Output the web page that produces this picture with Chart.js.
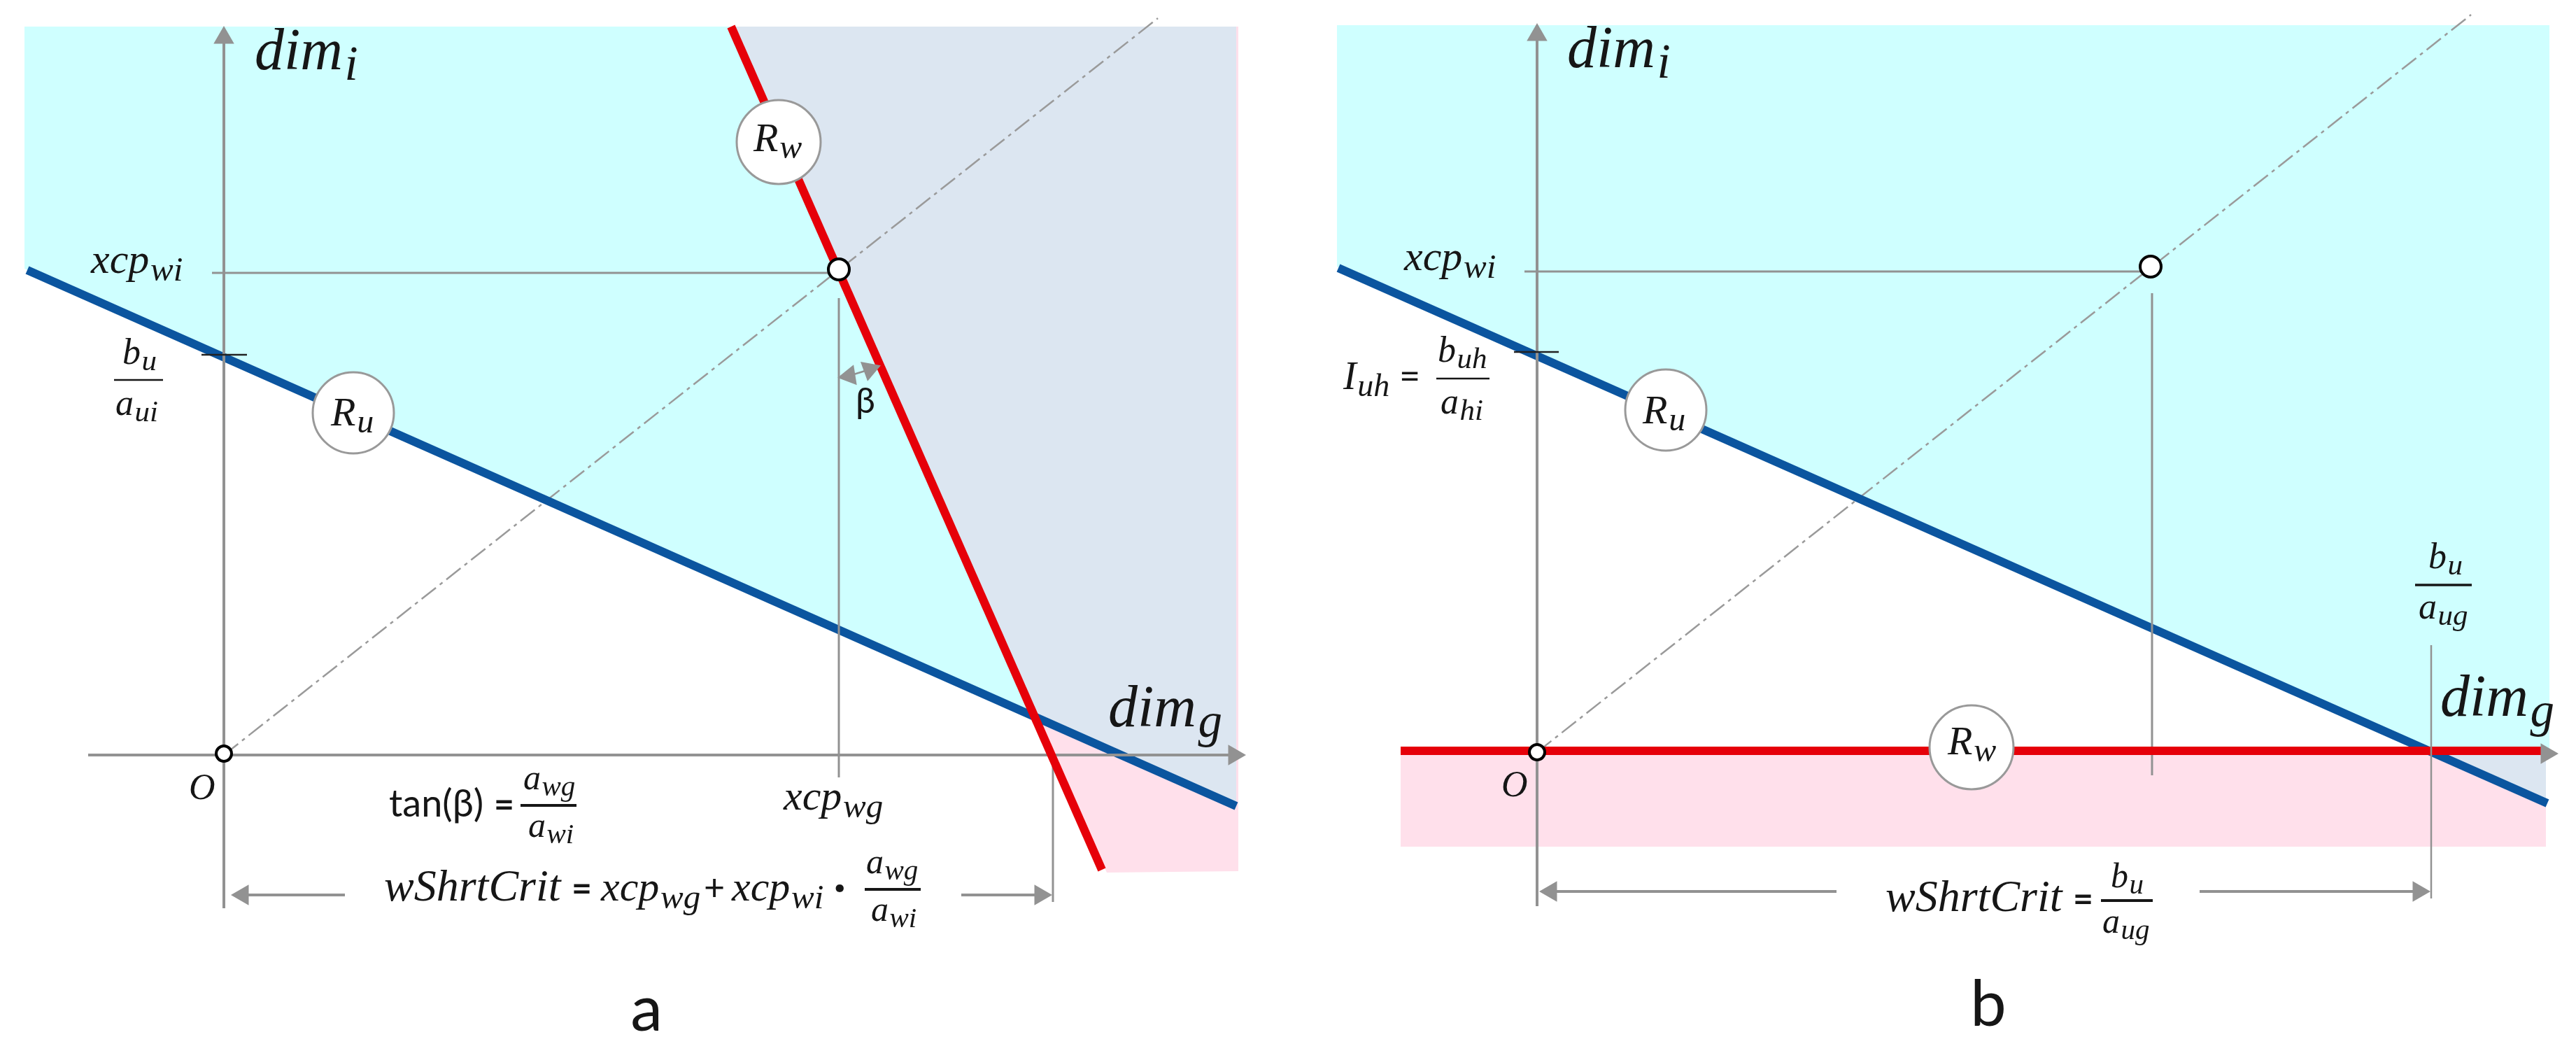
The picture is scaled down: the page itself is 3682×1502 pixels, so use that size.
<!DOCTYPE html>
<html>
<head>
<meta charset="utf-8">
<title>wShrtCrit</title>
<script src="https://cdn.jsdelivr.net/npm/chart.js@4"></script>
<style>
  html, body { margin: 0; padding: 0; background: #fff; }
  body { width: 3682px; height: 1502px; position: relative; overflow: hidden; }
  canvas { position: absolute; top: 0; }
  #panelA { left: 0; }
  #panelB { left: 1841px; }
</style>
</head>
<body>
<canvas id="panelA" width="1841" height="1502"></canvas>
<canvas id="panelB" width="1841" height="1502"></canvas>
<script>
// ----------------------
// PANEL A DATA (origin = O)
// ----------------------
const aXRange = [-3.20, 15.21];
const aYRange = [-4.23, 10.79];
const aRuX = [-2.81, 14.47];
const aRuY = [6.93, -0.73];
const aRwX = [7.25, 12.55];
const aRwY = [10.41, -1.64];
const aCyanX = [-2.85, 7.25, 11.62, -2.85];
const aCyanY = [10.41, 10.41, 0.54, 6.95];
const aGreyX = [7.25, 14.47, 14.47, 11.62];
const aGreyY = [10.41, 10.41, -0.73, 0.54];
const aPinkX = [11.62, 14.50, 14.50, 12.62];
const aPinkY = [0.54, -0.73, -1.66, -1.68];
const aStripX = [14.47, 14.50, 14.50, 14.47];
const aStripY = [10.41, 10.41, -0.73, -0.73];
const aDiagX = [0, 13.35];
const aDiagY = [0, 10.53];
const aXcp = [8.79, 6.94];
const aRuBadge = [1.85, 4.89];
const aRwBadge = [7.93, 8.76];
const aBu = [5.72];

// ----------------------
// PANEL B DATA
// ----------------------
const bXRange = [-3.56, 14.85];
const bYRange = [-4.27, 10.75];
const bRuX = [-2.84, 14.44];
const bRuY = [6.92, -0.73];
const bRwX = [-1.95, 14.42];
const bRwY = [0.02, 0.02];
const bCyanX = [-2.86, 14.47, 14.47, 12.78, -2.86];
const bCyanY = [10.39, 10.39, 0, 0, 6.94];
const bGreyX = [12.78, 14.42, 14.42];
const bGreyY = [0, 0, -0.73];
const bPinkX = [-1.95, 12.78, 14.42, 14.42, -1.95];
const bPinkY = [0, 0, -0.73, -1.35, -1.35];
const bDiagX = [0, 13.35];
const bDiagY = [0, 10.54];
const bXcp = [8.77, 6.94];
const bRuBadge = [1.84, 4.89];
const bRwBadge = [6.21, 0.07];
const bBu = [5.72];

// ----------------------
// COLOURS
// ----------------------
const CYAN = '#cfffff';
const GREYBLUE = '#dce6f1';
const PINK = '#ffe0eb';
const BLUE = '#0b559f';
const RED = '#e60009';
const GREY = '#929292';
const INK = '#161616';

// ----------------------
// DATASET HELPERS
// ----------------------
function zip(xs, ys) {
    return xs.map((x, i) => ({ x: x, y: ys[i] }));
}

function area(xs, ys, color) {
    return { data: zip(xs, ys), showLine: true, fill: 'shape', backgroundColor: color, borderWidth: 0, pointRadius: 0 };
}

function line(xs, ys, color, width, dash) {
    return { data: zip(xs, ys), showLine: true, fill: false, borderColor: color, borderWidth: width, borderDash: dash || [], pointRadius: 0 };
}

function dot(p, radius, border, borderWidth) {
    return { data: [{ x: p[0], y: p[1] }], showLine: false, pointRadius: radius, pointBackgroundColor: '#fff', pointBorderColor: border, pointBorderWidth: borderWidth };
}

function head(x, y, rotation, radius) {
    return { data: [{ x: x, y: y }], showLine: false, pointStyle: 'triangle', pointRotation: rotation, pointRadius: radius, pointBackgroundColor: GREY, pointBorderColor: GREY, pointBorderWidth: 0 };
}

// ----------------------
// TEXT HELPERS
// ----------------------
const SERIF = '"Liberation Serif", serif';
const SANS = 'Lato, sans-serif';

function mathText(chart, base, sub, x, y, size) {
    const ctx = chart.ctx;
    const px = chart.scales.x.getPixelForValue(x);
    const py = chart.scales.y.getPixelForValue(y);
    ctx.fillStyle = INK;
    ctx.textAlign = 'left';
    ctx.textBaseline = 'alphabetic';
    ctx.font = 'italic ' + size + 'px ' + SERIF;
    ctx.fillText(base, px, py);
    const w = ctx.measureText(base).width;
    if (sub) {
        ctx.font = 'italic ' + Math.round(size * 0.82) + 'px ' + SERIF;
        ctx.fillText(sub, px + w + size * 0.03, py + size * 0.18);
    }
}

function plainText(chart, str, x, y, size, align, weight) {
    const ctx = chart.ctx;
    ctx.fillStyle = INK;
    ctx.textAlign = align || 'left';
    ctx.textBaseline = 'alphabetic';
    ctx.font = (weight || 'normal') + ' ' + size + 'px ' + SANS;
    ctx.fillText(str, chart.scales.x.getPixelForValue(x), chart.scales.y.getPixelForValue(y));
}

function bar(chart, x1, x2, y, width) {
    const ctx = chart.ctx;
    const py = chart.scales.y.getPixelForValue(y);
    ctx.strokeStyle = INK;
    ctx.lineWidth = width || 2.5;
    ctx.beginPath();
    ctx.moveTo(chart.scales.x.getPixelForValue(x1), py);
    ctx.lineTo(chart.scales.x.getPixelForValue(x2), py);
    ctx.stroke();
}

// ----------------------
// LABELS
// ----------------------
const labelsA = {
    id: 'labelsA',
    afterDatasetsDraw(chart) {
        mathText(chart, 'dim', 'i', 0.44, 9.80, 84);
        mathText(chart, 'dim', 'g', 12.64, 0.41, 84);
        mathText(chart, 'xcp', 'wi', -1.90, 6.89, 60);
        mathText(chart, 'b', 'u', -1.45, 5.59, 52);
        bar(chart, -1.57, -0.87, 5.36);
        mathText(chart, 'a', 'ui', -1.55, 4.86, 52);
        mathText(chart, 'R', 'u', 1.53, 4.71, 58);
        mathText(chart, 'R', 'w', 7.57, 8.63, 58);
        plainText(chart, 'β', 9.17, 4.89, 50, 'center');
        mathText(chart, 'O', '', -0.50, -0.63, 52);
        plainText(chart, 'tan(β)', 2.36, -0.88, 54);
        plainText(chart, '=', 3.86, -0.88, 50, 'left', 'bold');
        mathText(chart, 'a', 'wg', 4.28, -0.49, 50);
        bar(chart, 4.24, 5.04, -0.72, 4);
        mathText(chart, 'a', 'wi', 4.35, -1.17, 50);
        mathText(chart, 'xcp', 'wg', 8.00, -0.78, 60);
        mathText(chart, 'wShrtCrit', '', 2.29, -2.08, 64);
        plainText(chart, '=', 4.97, -2.08, 50, 'left', 'bold');
        mathText(chart, 'xcp', 'wg', 5.39, -2.08, 60);
        plainText(chart, '+', 6.86, -2.08, 52);
        mathText(chart, 'xcp', 'wi', 7.26, -2.08, 60);
        plainText(chart, '·', 8.72, -2.08, 60, 'left', 'bold');
        mathText(chart, 'a', 'wg', 9.18, -1.69, 50);
        bar(chart, 9.16, 9.96, -1.92, 4);
        mathText(chart, 'a', 'wi', 9.25, -2.37, 50);
        plainText(chart, 'a', 6.04, -3.94, 92, 'center');
    }
};

const labelsB = {
    id: 'labelsB',
    afterDatasetsDraw(chart) {
        mathText(chart, 'dim', 'i', 0.43, 9.79, 84);
        mathText(chart, 'dim', 'g', 12.91, 0.52, 84);
        mathText(chart, 'xcp', 'wi', -1.90, 6.89, 60);
        mathText(chart, 'I', 'uh', -2.77, 5.19, 56);
        plainText(chart, '=', -1.97, 5.19, 52);
        mathText(chart, 'b', 'uh', -1.42, 5.58, 52);
        bar(chart, -1.44, -0.68, 5.34);
        mathText(chart, 'a', 'hi', -1.38, 4.84, 52);
        mathText(chart, 'R', 'u', 1.51, 4.70, 58);
        mathText(chart, 'R', 'w', 5.87, -0.03, 58);
        mathText(chart, 'O', '', -0.51, -0.63, 52);
        mathText(chart, 'b', 'u', 12.74, 2.63, 52);
        bar(chart, 12.55, 13.36, 2.39, 3.5);
        mathText(chart, 'a', 'ug', 12.60, 1.91, 52);
        mathText(chart, 'wShrtCrit', '', 4.98, -2.27, 64);
        plainText(chart, '=', 7.66, -2.27, 50, 'left', 'bold');
        mathText(chart, 'b', 'u', 8.20, -1.93, 50);
        bar(chart, 8.06, 8.80, -2.12, 4);
        mathText(chart, 'a', 'ug', 8.08, -2.58, 50);
        plainText(chart, 'b', 6.45, -3.91, 92, 'center');
    }
};

// ----------------------
// CHART SETUP
// ----------------------
function makeChart(id, datasets, xRange, yRange, labelPlugin) {
    // first in the list is painted first
    datasets.forEach((d, i) => { d.order = datasets.length - i; });
    return new Chart(document.getElementById(id), {
        type: 'scatter',
        data: { datasets: datasets },
        options: {
            responsive: false,
            animation: false,
            layout: { padding: 0, autoPadding: false },
            plugins: { legend: { display: false }, tooltip: { enabled: false } },
            elements: { line: { tension: 0 } },
            scales: {
                x: { type: 'linear', display: false, min: xRange[0], max: xRange[1] },
                y: { type: 'linear', display: false, min: yRange[0], max: yRange[1] }
            }
        },
        plugins: [labelPlugin]
    });
}

makeChart('panelA', [
    area(aCyanX, aCyanY, CYAN),
    area(aGreyX, aGreyY, GREYBLUE),
    area(aPinkX, aPinkY, PINK),
    area(aStripX, aStripY, PINK),
    line(aDiagX, aDiagY, '#9a9a9a', 2.5, [26, 7, 5, 7]),
    line(aRuX, aRuY, BLUE, 12),
    line([0, 0], [-2.19, 10.25], GREY, 4),
    line([-1.94, 14.44], [0, 0], GREY, 4),
    line([-0.17, aXcp[0]], [6.89, 6.89], GREY, 3),
    line([aXcp[0], aXcp[0]], [-0.32, 6.53], GREY, 3),
    line([11.85, 11.85], [0, -2.10], GREY, 3),
    line([0.27, 1.73], [-2.00, -2.00], GREY, 4),
    line([10.54, 11.67], [-2.00, -2.00], GREY, 4),
    line([8.94, 9.23], [5.42, 5.51], GREY, 2.5),
    line(aRwX, aRwY, RED, 12),
    line([-0.32, 0.33], [aBu[0], aBu[0]], '#222', 2.5),
    head(0, 10.25, 0, 17),
    head(14.44, 0, 90, 17),
    head(0.27, -2.00, 270, 17),
    head(11.67, -2.00, 90, 17),
    head(8.94, 5.42, 261, 17),
    head(9.23, 5.51, 70, 17),
    dot(aXcp, 15, '#000', 4),
    dot([0, 0.02], 11, '#000', 4),
    dot(aRuBadge, 58, '#999', 3),
    dot(aRwBadge, 60, '#999', 3)
], aXRange, aYRange, labelsA);

makeChart('panelB', [
    area(bCyanX, bCyanY, CYAN),
    area(bPinkX, bPinkY, PINK),
    area(bGreyX, bGreyY, GREYBLUE),
    line(bDiagX, bDiagY, '#9a9a9a', 2.5, [26, 7, 5, 7]),
    line(bRuX, bRuY, BLUE, 12),
    line([0, 0], [-2.20, 10.25], GREY, 4),
    line([-0.18, bXcp[0]], [6.87, 6.87], GREY, 3),
    line([8.79, 8.79], [-0.33, 6.56], GREY, 3),
    line([0.20, 4.28], [-1.99, -1.99], GREY, 4),
    line([9.47, 12.60], [-1.99, -1.99], GREY, 4),
    line(bRwX, bRwY, RED, 12),
    line([12.78, 12.78], [-2.09, 1.53], GREY, 2.5),
    line([-0.33, 0.31], [bBu[0], bBu[0]], '#222', 2.5),
    head(0, 10.25, 0, 17),
    head(14.43, -0.02, 90, 17),
    head(0.20, -1.99, 270, 17),
    head(12.60, -1.99, 90, 17),
    dot(bXcp, 15, '#000', 4),
    dot([0, 0], 11, '#000', 4),
    dot(bRuBadge, 58, '#999', 3),
    dot(bRwBadge, 60, '#999', 3)
], bXRange, bYRange, labelsB);
</script>
</body>
</html>
